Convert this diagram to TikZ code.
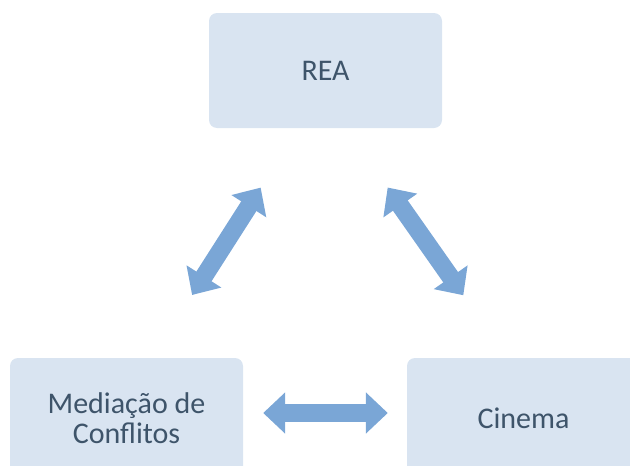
\documentclass[tikz,border=0pt]{standalone}
\usepackage{fontspec}
\setmainfont{Carlito}
\usepackage{tikz}
\usetikzlibrary{positioning, arrows.meta}
\definecolor{boxfill}{RGB}{217,228,241}
\definecolor{boxtext}{RGB}{62,84,106}
\definecolor{arrowblue}{RGB}{122,166,214}
\tikzset{
	topic/.style={rounded corners=8pt, fill=boxfill, text=boxtext, align=center,
		minimum width=233pt, font=\fontsize{30}{30}\selectfont},
	link/.style={draw=arrowblue, line width=18pt,
		{Triangle[width=40pt,length=22pt]}-{Triangle[width=40pt,length=22pt]}}
}

\begin{document}
\begin{tikzpicture}[x=1pt,y=-1pt]
\useasboundingbox (0,0) rectangle (630,466);
\node (rea) [topic,minimum height=115pt] at (325.5,70.5) {REA};
\node (med) [topic,minimum height=120pt] at (126.5,418) {Mediação de\\Conflitos};
\node (cin) [topic,minimum height=120pt] at (523.5,418) {Cinema};
\draw[link,shorten <=139pt,shorten >=146pt] ([xshift=10pt]rea.center) -- ([xshift=-13pt]med.center);
\draw[link,shorten <=143pt,shorten >=150pt] ([xshift=-20pt]rea.center) -- ([xshift=26pt]cin.center);
\draw[link,shorten <=20pt,shorten >=19pt] ([yshift=5pt]med.east) -- ([yshift=5pt]cin.west);
\end{tikzpicture}
\end{document}
